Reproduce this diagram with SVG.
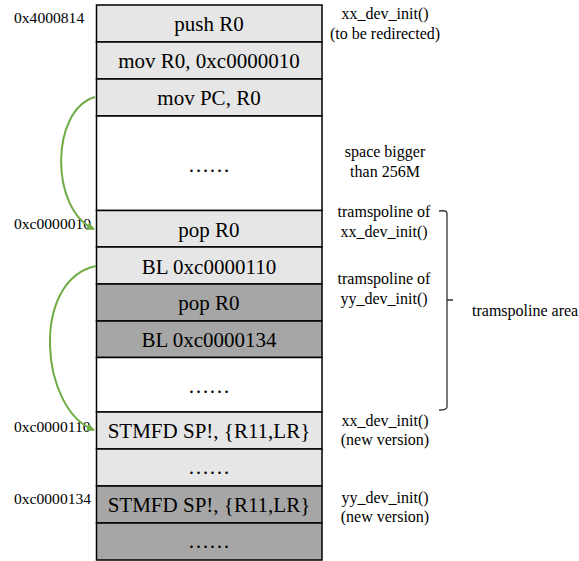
<svg xmlns="http://www.w3.org/2000/svg" width="579" height="561" viewBox="0 0 579 561">
<style>
.cell{stroke:#000;stroke-width:1.5}
.l{fill:#e6e6e6}.d{fill:#a6a6a6}.w{fill:#fff}
.t{font-family:"Liberation Serif",serif;font-size:21px;fill:#000;text-anchor:middle}
.s{font-family:"Liberation Serif",serif;font-size:16px;fill:#000}
.a{font-size:15.6px}
.c{text-anchor:middle}
.g{fill:none;stroke:#6fac46;stroke-width:2}
</style>
<defs>
<marker id="ah" markerWidth="8" markerHeight="8" refX="7" refY="4" orient="auto" markerUnits="userSpaceOnUse"><path d="M0,0 L8,4 L0,8 z" fill="#6fac46"/></marker>
</defs>
<g id="cells">
<g id="n1"><rect class="cell l" x="96.5" y="5" width="225.5" height="37"/><text class="t" x="209" y="31">push R0</text></g>
<g id="n2"><rect class="cell l" x="96.5" y="42" width="225.5" height="37"/><text class="t" x="209" y="68">mov R0, 0xc0000010</text></g>
<g id="n3"><rect class="cell l" x="96.5" y="79" width="225.5" height="37"/><text class="t" x="209" y="105">mov PC, R0</text></g>
<g id="n4"><rect class="cell w" x="96.5" y="116" width="225.5" height="94.5"/><text class="t" x="209" y="172">……</text></g>
<g id="n5"><rect class="cell l" x="96.5" y="210.5" width="225.5" height="36.5"/><text class="t" x="209" y="237">pop R0</text></g>
<g id="n6"><rect class="cell l" x="96.5" y="247" width="225.5" height="37"/><text class="t" x="209" y="274">BL 0xc0000110</text></g>
<g id="n7"><rect class="cell d" x="96.5" y="284" width="225.5" height="37"/><text class="t" x="209" y="310">pop R0</text></g>
<g id="n8"><rect class="cell d" x="96.5" y="321" width="225.5" height="36.5"/><text class="t" x="209" y="347">BL 0xc0000134</text></g>
<g id="n9"><rect class="cell w" x="96.5" y="357.5" width="225.5" height="54.5"/><text class="t" x="209" y="393">……</text></g>
<g id="n10"><rect class="cell l" x="96.5" y="412" width="225.5" height="37"/><text class="t" x="209" y="438">STMFD SP!, {R11,LR}</text></g>
<g id="n11"><rect class="cell l" x="96.5" y="449" width="225.5" height="37"/><text class="t" x="209" y="474">……</text></g>
<g id="n12"><rect class="cell d" x="96.5" y="486" width="225.5" height="37"/><text class="t" x="209" y="512">STMFD SP!, {R11,LR}</text></g>
<g id="n13"><rect class="cell d" x="96.5" y="523" width="225.5" height="37"/><text class="t" x="209" y="548">……</text></g>
</g>
<g id="addresses">
<text class="s a" x="14" y="23">0x4000814</text>
<text class="s a" x="14" y="229">0xc0000010</text>
<text class="s a" x="14" y="432">0xc0000110</text>
<text class="s a" x="14" y="504">0xc0000134</text>
</g>
<g id="notes">
<text class="s c" x="385" y="19">xx_dev_init()</text>
<text class="s c" x="385" y="39">(to be redirected)</text>
<text class="s c" x="385" y="157">space bigger</text>
<text class="s c" x="385" y="177">than 256M</text>
<text class="s c" x="384" y="217">tramspoline of</text>
<text class="s c" x="384" y="237">xx_dev_init()</text>
<text class="s c" x="384" y="284">tramspoline of</text>
<text class="s c" x="384" y="304">yy_dev_init()</text>
<text class="s c" x="385" y="426">xx_dev_init()</text>
<text class="s c" x="385" y="445">(new version)</text>
<text class="s c" x="385" y="503">yy_dev_init()</text>
<text class="s c" x="385" y="522">(new version)</text>
<text class="s" x="472" y="316">tramspoline area</text>
</g>
<g id="bracket">
<path d="M439,211 Q447,210 447,213 L447,407 Q447,410 439,410 M447,300 L453,300" fill="none" stroke="#333" stroke-width="1.3"/>
</g>
<g id="connectors">
<path class="g" d="M95,97 C50,110 50,210 94,229" marker-end="url(#ah)"/>
<path class="g" d="M96,266 C30,280 40,410 94,430" marker-end="url(#ah)"/>
</g>
</svg>
